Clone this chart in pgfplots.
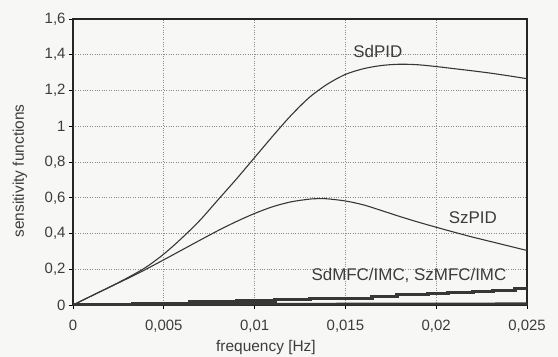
\documentclass[border=0pt]{standalone}
\usepackage{pgfplots}
\pgfplotsset{compat=1.18}
\usepackage{fontspec}
\setmainfont{Liberation Sans}
\definecolor{bg}{RGB}{247,247,245}
\definecolor{crv}{RGB}{55,55,55}
\definecolor{txt}{RGB}{60,60,60}
\begin{document}
\begin{tikzpicture}
\fill[bg] (-73bp,-52bp) rectangle (485bp,305bp);
\useasboundingbox (-73bp,-52bp) rectangle (485bp,305bp);
\begin{axis}[
  at={(0,0)}, anchor=south west,
  scale only axis, width=454bp, height=286bp,
  xmin=0, xmax=0.025, ymin=0, ymax=1.6,
  xtick={0,0.005,0.01,0.015,0.02,0.025},
  xticklabels={0,{0,005},{0,01},{0,015},{0,02},{0,025}},
  ytick={0,0.2,0.4,0.6,0.8,1,1.2,1.4,1.6},
  yticklabels={0,{0,2},{0,4},{0,6},{0,8},1,{1,2},{1,4},{1,6}},
  scaled x ticks=false, scaled y ticks=false,
  xtick pos=left, ytick pos=left,
  tick align=outside, major tick length=4bp,
  tick style={black, line width=0.8pt},
  axis line style={black!85, line width=1.2pt},
  grid=major,
  major grid style={dotted, black!45, line width=0.7pt},
  ticklabel style={font=\fontsize{15}{18}\selectfont, text=txt},
  xticklabel style={yshift=-8bp},
  xlabel={frequency [Hz]},
  ylabel={sensitivity functions},
  label style={font=\fontsize{15.5}{18}\selectfont, text=txt},
  xlabel style={at={(rel axis cs:0.425,0)}, anchor=base, yshift=-46bp},
  ylabel style={at={(rel axis cs:0,0.469)}, anchor=center, rotate=0, yshift=53bp},
]
% SdPID
\addplot[crv, line width=1.1pt, smooth] coordinates {
(0,0) (0.001,0.05) (0.002,0.10) (0.003,0.152) (0.004,0.21)
(0.005,0.285) (0.006,0.375) (0.007,0.475) (0.008,0.59) (0.009,0.705) (0.010,0.825)
(0.011,0.945) (0.012,1.06) (0.013,1.16) (0.014,1.235) (0.015,1.29) (0.016,1.322)
(0.017,1.34) (0.018,1.347) (0.019,1.344) (0.020,1.334) (0.021,1.322) (0.022,1.31)
(0.023,1.297) (0.024,1.282) (0.025,1.266)};
% SzPID
\addplot[crv, line width=1.1pt, smooth] coordinates {
(0,0) (0.001,0.05) (0.002,0.099) (0.003,0.148) (0.004,0.199) (0.005,0.253)
(0.006,0.308) (0.007,0.363) (0.008,0.417) (0.009,0.467) (0.010,0.512) (0.011,0.55)
(0.012,0.577) (0.013,0.592) (0.0135,0.595) (0.014,0.594) (0.015,0.582) (0.016,0.56)
(0.017,0.528) (0.018,0.495) (0.019,0.464) (0.020,0.435) (0.021,0.407) (0.022,0.38)
(0.023,0.355) (0.024,0.33) (0.025,0.305)};
% SdMFC/IMC
\addplot[crv, line width=3.3bp, const plot] coordinates {
(0,0.002) (0.0033,0.010) (0.00644,0.016) (0.00903,0.023) (0.01112,0.031)
(0.01305,0.036) (0.01646,0.049) (0.01784,0.057) (0.01955,0.064) (0.02065,0.070)
(0.02203,0.076) (0.02313,0.083) (0.02434,0.091) (0.025,0.091)};
% SzMFC/IMC
\addplot[crv, line width=2.6bp] coordinates {(0,0.003) (0.025,0.007)};
\node[font=\fontsize{17}{20}\selectfont, text=txt] at (axis cs:0.01679,1.421) {SdPID};
\node[font=\fontsize{17}{20}\selectfont, text=txt] at (axis cs:0.02202,0.487) {SzPID};
\node[font=\fontsize{17}{20}\selectfont, text=txt] at (axis cs:0.0185,0.168) {SdMFC/IMC, SzMFC/IMC};
\end{axis}
\end{tikzpicture}
\end{document}
